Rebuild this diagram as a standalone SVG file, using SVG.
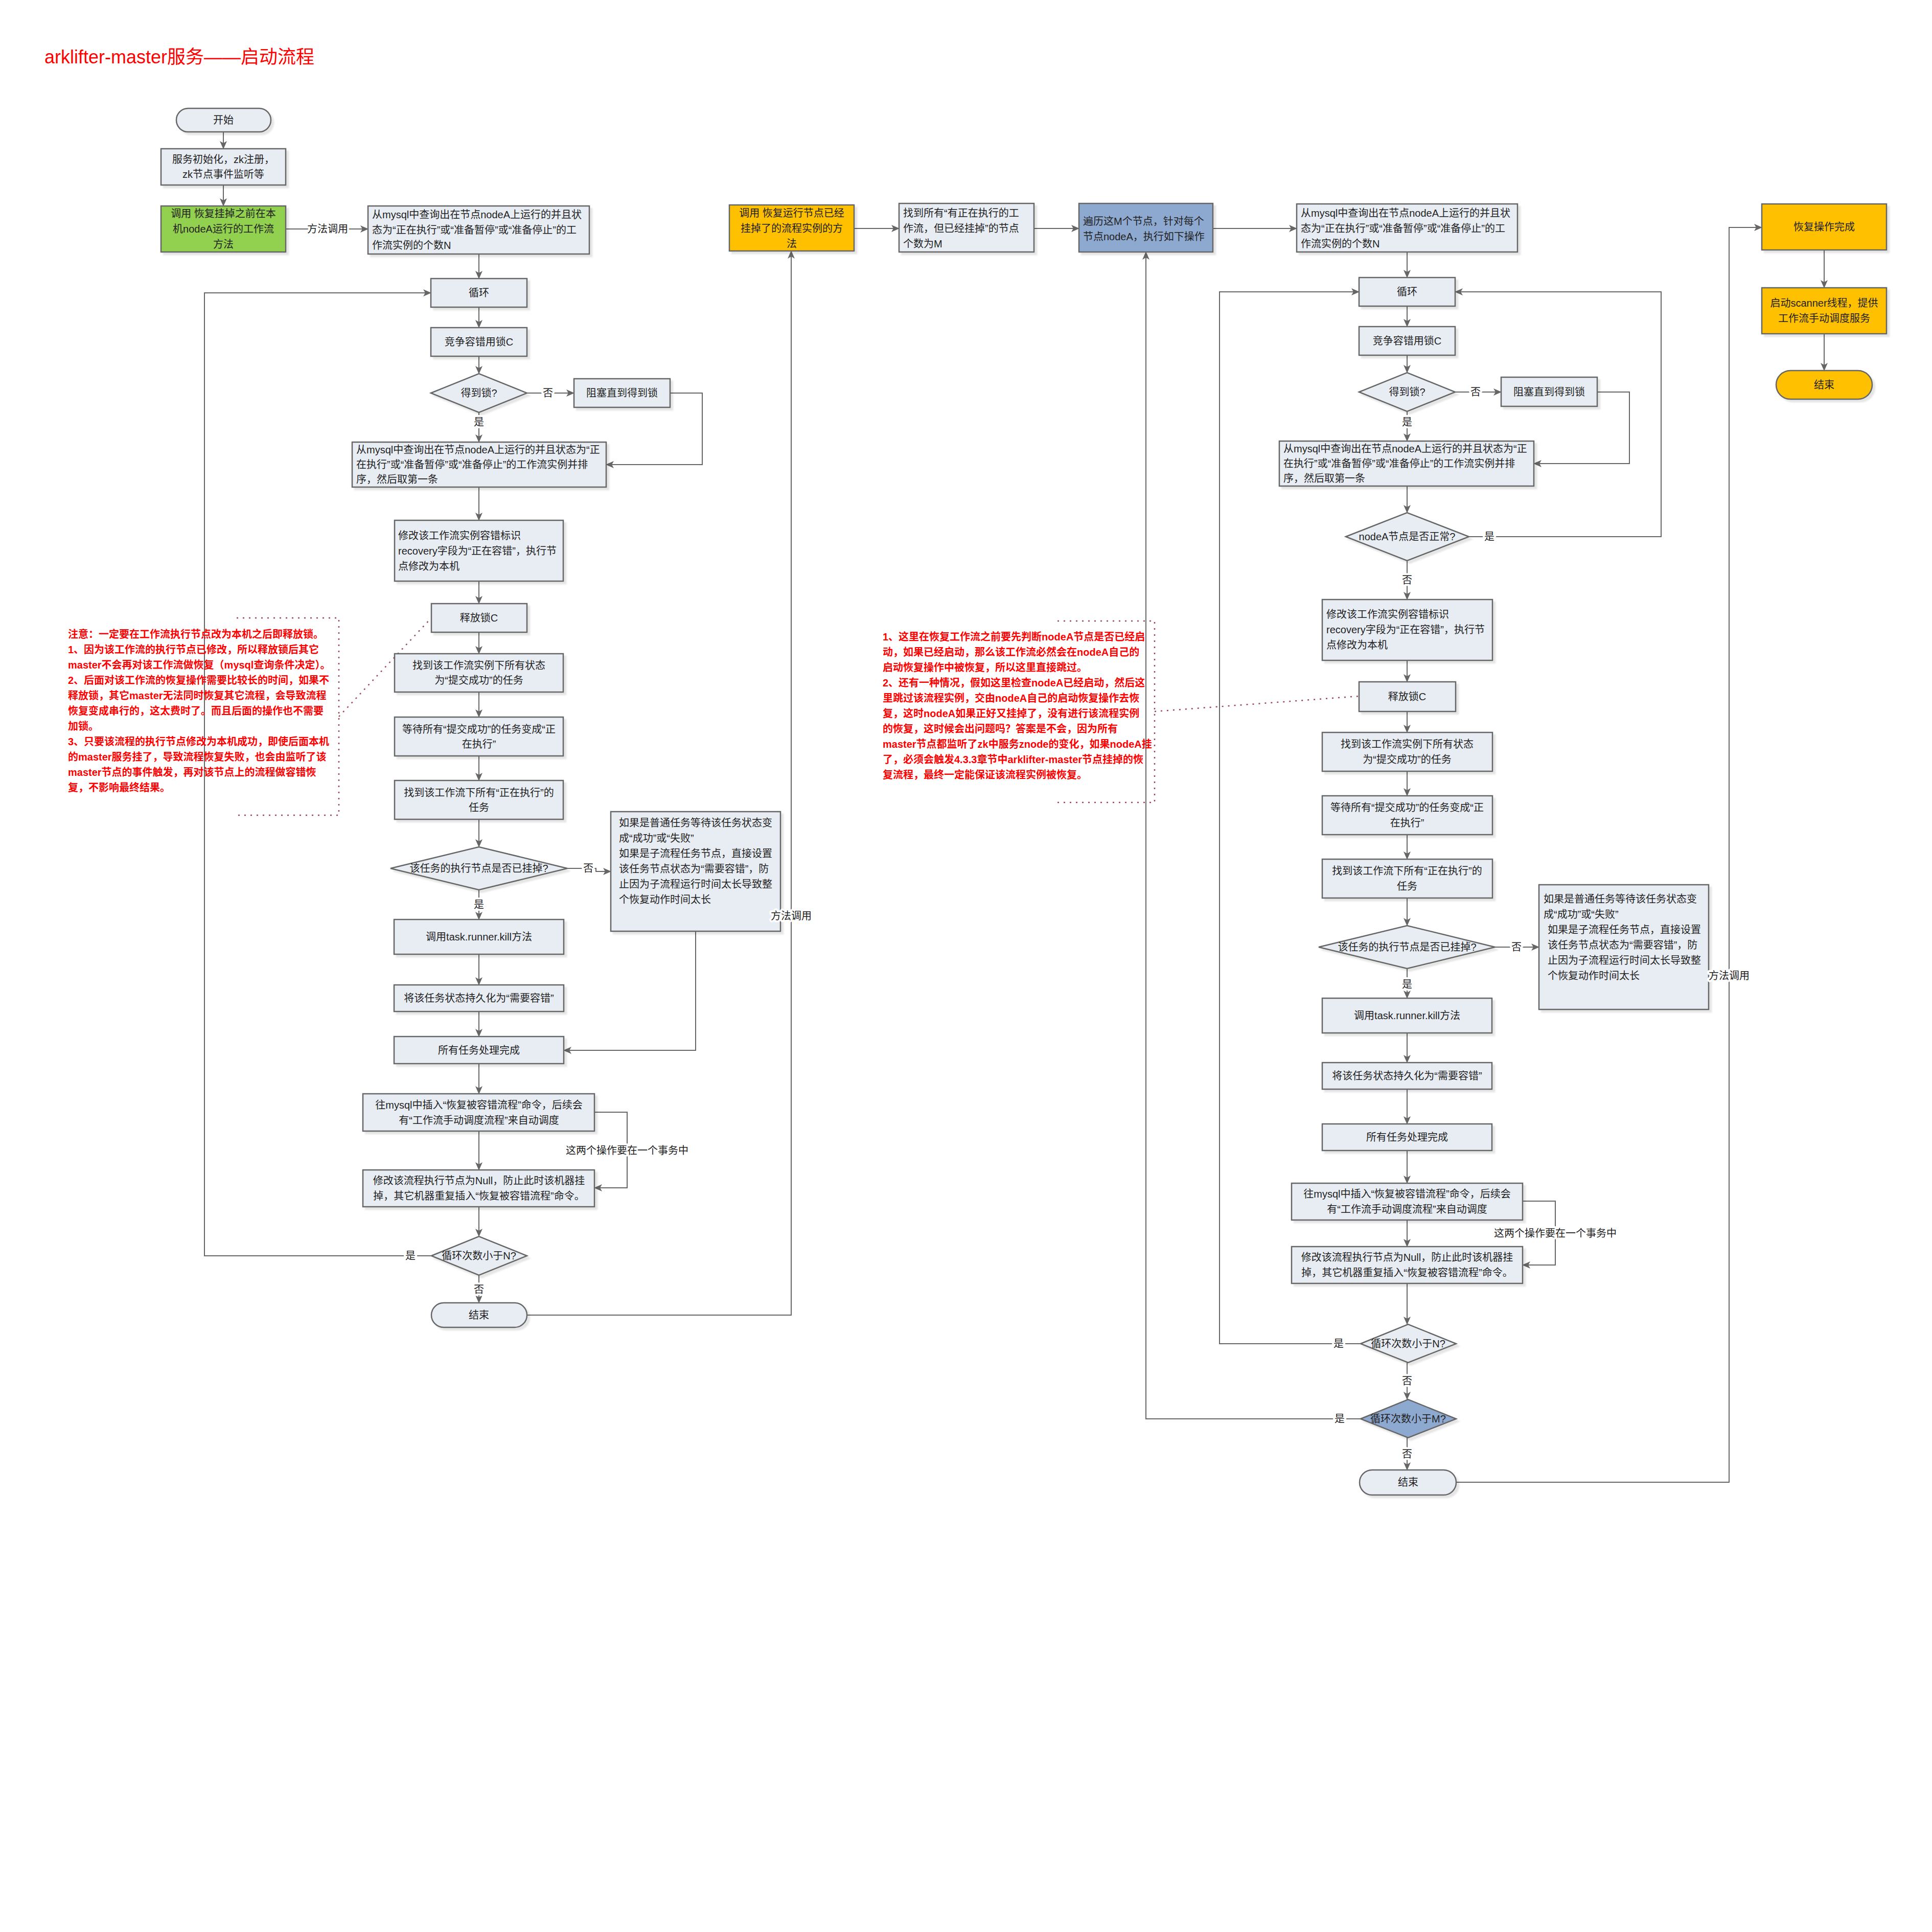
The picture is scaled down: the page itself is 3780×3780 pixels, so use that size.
<svg xmlns="http://www.w3.org/2000/svg" width="3780" height="3780" viewBox="0 0 3780 3780">
<style>
text{font-family:"Liberation Sans","Noto Sans CJK SC",sans-serif;font-size:20px;fill:#222;dominant-baseline:central}
.c{text-anchor:middle}
.n{fill:#E8EDF4;stroke:#666;stroke-width:2.5;filter:url(#ds)}
.g{fill:#92D050}
.y{fill:#FFC000}
.b{fill:#8EA9D0}
.e{fill:none;stroke:#666;stroke-width:2}
.a{marker-end:url(#ah)}
.lbl{text-anchor:middle;paint-order:stroke;stroke:#fff;stroke-width:8px;stroke-linejoin:round}
.red{fill:#f00;font-weight:bold}
.dot{fill:none;stroke:#9c4858;stroke-width:2.5;stroke-dasharray:3 9}
.title{font-size:36px;fill:#f00}
</style>
<defs>
<filter id="ds" x="-10%" y="-10%" width="130%" height="130%"><feDropShadow dx="5" dy="5" stdDeviation="1.5" flood-color="#000" flood-opacity="0.1"/></filter>
<marker id="ah" viewBox="0 0 16 14" refX="15" refY="7" markerWidth="16" markerHeight="14" orient="auto" markerUnits="userSpaceOnUse"><path d="M0,0 L16,7 L0,14 L4,7 z" fill="#666"/></marker>
</defs>
<rect width="3780" height="3780" fill="#fff"/>
<text x="87" y="111" class="title">arklifter-master服务——启动流程</text>

<g id="connectors">
<path class="e a" d="M437,258 V291"/>
<path class="e a" d="M437,362 V403"/>
<path class="e a" d="M559,448 H720"/>
<path class="e a" d="M937,497 V545"/>
<path class="e a" d="M937,601 V641"/>
<path class="e a" d="M937,697 V731"/>
<path class="e a" d="M1031,769 H1123"/>
<path class="e a" d="M1311,769 H1374 V909 H1186"/>
<path class="e a" d="M937,807 V865"/>
<path class="e a" d="M937,953 V1018"/>
<path class="e a" d="M937,1137 V1181"/>
<path class="e a" d="M937,1237 V1279"/>
<path class="e a" d="M937,1354 V1403"/>
<path class="e a" d="M937,1479 V1527"/>
<path class="e a" d="M937,1603 V1657"/>
<path class="e a" d="M1110,1699 H1166 V1705 H1195"/>
<path class="e a" d="M937,1741 V1799"/>
<path class="e a" d="M937,1867 V1927"/>
<path class="e a" d="M937,1979 V2028"/>
<path class="e a" d="M1361,1822 V2055 H1103"/>
<path class="e a" d="M937,2081 V2140"/>
<path class="e a" d="M937,2213 V2289"/>
<path class="e a" d="M1163,2176 H1227 V2324 H1163"/>
<path class="e a" d="M937,2361 V2419"/>
<path class="e a" d="M844,2457 H400 V573 H843"/>
<path class="e a" d="M937,2495 V2549"/>
<path class="e a" d="M1031,2573 H1548 V491"/>
<path class="e a" d="M1671,447 H1759"/>
<path class="e a" d="M2023,447 H2111"/>
<path class="e a" d="M2373,447 H2537"/>
<path class="e a" d="M2753,493 V543"/>
<path class="e a" d="M2753,599 V639"/>
<path class="e a" d="M2753,695 V729"/>
<path class="e a" d="M2847,767 H2937"/>
<path class="e a" d="M3125,767 H3188 V907 H3001"/>
<path class="e a" d="M2753,805 V863"/>
<path class="e a" d="M2753,951 V1003"/>
<path class="e a" d="M2874,1050 H3250 V571 H2847"/>
<path class="e a" d="M2753,1097 V1173"/>
<path class="e a" d="M2753,1292 V1334"/>
<path class="e a" d="M2753,1392 V1433"/>
<path class="e a" d="M2753,1509 V1557"/>
<path class="e a" d="M2753,1633 V1681"/>
<path class="e a" d="M2753,1757 V1811"/>
<path class="e a" d="M2925,1853 H3011"/>
<path class="e a" d="M2753,1895 V1953"/>
<path class="e a" d="M2753,2021 V2079"/>
<path class="e a" d="M2753,2131 V2199"/>
<path class="e a" d="M2753,2251 V2315"/>
<path class="e a" d="M2753,2387 V2439"/>
<path class="e a" d="M2979,2350 H3043 V2475 H2979"/>
<path class="e a" d="M2753,2511 V2591"/>
<path class="e a" d="M2662,2629 H2386 V571 H2659"/>
<path class="e a" d="M2753,2666 V2738"/>
<path class="e a" d="M2662,2776 H2242 V493"/>
<path class="e a" d="M2753,2813 V2876"/>
<path class="e a" d="M2849,2900 H3383 V445 H3447"/>
<path class="e a" d="M3569,489 V563"/>
<path class="e a" d="M3569,653 V725"/>
<path class="dot" d="M463,1209 H663 V1595 H463"/>
<path class="dot" d="M663,1402 L843,1210"/>
<path class="dot" d="M2069,1215 H2259 V1570 H2060"/>
<path class="dot" d="M2259,1392 L2659,1362"/>
</g>

<g id="start"><rect class="n" x="345" y="212" width="185" height="46" rx="23"/><text x="437" y="235" class="c">开始</text></g>
<g id="init"><rect class="n" x="315" y="291" width="244" height="71"/><text class="c"><tspan x="437" y="312">服务初始化，zk注册，</tspan><tspan x="437" y="341">zk节点事件监听等</tspan></text></g>
<g id="callRecover"><rect class="n g" x="315" y="403" width="244" height="90"/><text class="c"><tspan x="437" y="418">调用 恢复挂掉之前在本</tspan><tspan x="437" y="448">机nodeA运行的工作流</tspan><tspan x="437" y="478">方法</tspan></text></g>
<g id="queryN1"><rect class="n" x="720" y="403" width="433" height="94"/><text><tspan x="728" y="420">从mysql中查询出在节点nodeA上运行的并且状</tspan><tspan x="728" y="450">态为“正在执行”或“准备暂停”或“准备停止”的工</tspan><tspan x="728" y="480">作流实例的个数N</tspan></text></g>
<g id="loop1"><rect class="n" x="843" y="545" width="188" height="56"/><text x="937" y="573" class="c">循环</text></g>
<g id="lock1"><rect class="n" x="843" y="641" width="188" height="56"/><text x="937" y="669" class="c">竞争容错用锁C</text></g>
<g id="gotLock1"><polygon class="n" points="843,769 937,731 1031,769 937,807"/><text x="937" y="769" class="c">得到锁?</text></g>
<g id="block1"><rect class="n" x="1123" y="741" width="188" height="56"/><text x="1217" y="769" class="c">阻塞直到得到锁</text></g>
<g id="querySort1"><rect class="n" x="689" y="865" width="497" height="88"/><text><tspan x="697" y="880">从mysql中查询出在节点nodeA上运行的并且状态为“正</tspan><tspan x="697" y="909">在执行”或“准备暂停”或“准备停止”的工作流实例并排</tspan><tspan x="697" y="938">序，然后取第一条</tspan></text></g>
<g id="modify1"><rect class="n" x="772" y="1018" width="330" height="119"/><text><tspan x="779" y="1048">修改该工作流实例容错标识</tspan><tspan x="779" y="1078">recovery字段为“正在容错”，执行节</tspan><tspan x="779" y="1108">点修改为本机</tspan></text></g>
<g id="release1"><rect class="n" x="844" y="1181" width="187" height="56"/><text x="937" y="1209" class="c">释放锁C</text></g>
<g id="findSubmit1"><rect class="n" x="772" y="1279" width="330" height="75"/><text class="c"><tspan x="937" y="1302">找到该工作流实例下所有状态</tspan><tspan x="937" y="1331">为“提交成功”的任务</tspan></text></g>
<g id="wait1"><rect class="n" x="772" y="1403" width="330" height="76"/><text class="c"><tspan x="937" y="1427">等待所有“提交成功”的任务变成“正</tspan><tspan x="937" y="1456">在执行”</tspan></text></g>
<g id="findRun1"><rect class="n" x="772" y="1527" width="330" height="76"/><text class="c"><tspan x="937" y="1551">找到该工作流下所有“正在执行”的</tspan><tspan x="937" y="1580">任务</tspan></text></g>
<g id="dead1"><polygon class="n" points="764,1699 937,1657 1110,1699 937,1741"/><text x="937" y="1699" class="c">该任务的执行节点是否已挂掉?</text></g>
<g id="wait1b"><rect class="n" x="1195" y="1588" width="332" height="234"/><text><tspan x="1211" y="1610">如果是普通任务等待该任务状态变</tspan><tspan x="1211" y="1640">成“成功”或“失败”</tspan><tspan x="1211" y="1670">如果是子流程任务节点，直接设置</tspan><tspan x="1211" y="1700">该任务节点状态为“需要容错”，防</tspan><tspan x="1211" y="1730">止因为子流程运行时间太长导致整</tspan><tspan x="1211" y="1760">个恢复动作时间太长</tspan></text></g>
<g id="kill1"><rect class="n" x="771" y="1799" width="332" height="68"/><text x="937" y="1833" class="c">调用task.runner.kill方法</text></g>
<g id="persist1"><rect class="n" x="771" y="1927" width="332" height="52"/><text x="937" y="1953" class="c">将该任务状态持久化为“需要容错”</text></g>
<g id="allDone1"><rect class="n" x="771" y="2028" width="332" height="53"/><text x="937" y="2055" class="c">所有任务处理完成</text></g>
<g id="insert1"><rect class="n" x="710" y="2140" width="453" height="73"/><text class="c"><tspan x="937" y="2162">往mysql中插入“恢复被容错流程”命令，后续会</tspan><tspan x="937" y="2192">有“工作流手动调度流程”来自动调度</tspan></text></g>
<g id="setNull1"><rect class="n" x="710" y="2289" width="453" height="72"/><text class="c"><tspan x="937" y="2310">修改该流程执行节点为Null，防止此时该机器挂</tspan><tspan x="937" y="2340">掉，其它机器重复插入“恢复被容错流程”命令。</tspan></text></g>
<g id="loopN1"><polygon class="n" points="844,2457 937,2419 1031,2457 937,2495"/><text x="937" y="2457" class="c">循环次数小于N?</text></g>
<g id="end1"><rect class="n" x="844" y="2549" width="187" height="48" rx="24"/><text x="937" y="2573" class="c">结束</text></g>

<g id="note1"><text class="red"><tspan x="133" y="1241">注意：一定要在工作流执行节点改为本机之后即释放锁。</tspan><tspan x="133" y="1271">1、因为该工作流的执行节点已修改，所以释放锁后其它</tspan><tspan x="133" y="1301">master不会再对该工作流做恢复（mysql查询条件决定）。</tspan><tspan x="133" y="1331">2、后面对该工作流的恢复操作需要比较长的时间，如果不</tspan><tspan x="133" y="1361">释放锁，其它master无法同时恢复其它流程，会导致流程</tspan><tspan x="133" y="1391">恢复变成串行的，这太费时了。而且后面的操作也不需要</tspan><tspan x="133" y="1421">加锁。</tspan><tspan x="133" y="1451">3、只要该流程的执行节点修改为本机成功，即使后面本机</tspan><tspan x="133" y="1481">的master服务挂了，导致流程恢复失败，也会由监听了该</tspan><tspan x="133" y="1511">master节点的事件触发，再对该节点上的流程做容错恢</tspan><tspan x="133" y="1541">复，不影响最终结果。</tspan></text></g>

<g id="callDead"><rect class="n y" x="1427" y="401" width="244" height="90"/><text class="c"><tspan x="1549" y="417">调用 恢复运行节点已经</tspan><tspan x="1549" y="447">挂掉了的流程实例的方</tspan><tspan x="1549" y="477">法</tspan></text></g>
<g id="findM"><rect class="n" x="1759" y="398" width="264" height="95"/><text><tspan x="1767" y="417">找到所有“有正在执行的工</tspan><tspan x="1767" y="447">作流，但已经挂掉”的节点</tspan><tspan x="1767" y="477">个数为M</tspan></text></g>
<g id="iterM"><rect class="n b" x="2111" y="398" width="262" height="95"/><text><tspan x="2119" y="433">遍历这M个节点，针对每个</tspan><tspan x="2119" y="463">节点nodeA，执行如下操作</tspan></text></g>

<g id="note2"><text class="red"><tspan x="1727" y="1246">1、这里在恢复工作流之前要先判断nodeA节点是否已经启</tspan><tspan x="1727" y="1276">动，如果已经启动，那么该工作流必然会在nodeA自己的</tspan><tspan x="1727" y="1306">启动恢复操作中被恢复，所以这里直接跳过。</tspan><tspan x="1727" y="1336">2、还有一种情况，假如这里检查nodeA已经启动，然后这</tspan><tspan x="1727" y="1366">里跳过该流程实例，交由nodeA自己的启动恢复操作去恢</tspan><tspan x="1727" y="1396">复，这时nodeA如果正好又挂掉了，没有进行该流程实例</tspan><tspan x="1727" y="1426">的恢复，这时候会出问题吗？答案是不会，因为所有</tspan><tspan x="1727" y="1456">master节点都监听了zk中服务znode的变化，如果nodeA挂</tspan><tspan x="1727" y="1486">了，必须会触发4.3.3章节中arklifter-master节点挂掉的恢</tspan><tspan x="1727" y="1516">复流程，最终一定能保证该流程实例被恢复。</tspan></text></g>

<g id="queryN2"><rect class="n" x="2537" y="399" width="432" height="94"/><text><tspan x="2545" y="417">从mysql中查询出在节点nodeA上运行的并且状</tspan><tspan x="2545" y="447">态为“正在执行”或“准备暂停”或“准备停止”的工</tspan><tspan x="2545" y="477">作流实例的个数N</tspan></text></g>
<g id="loop2"><rect class="n" x="2659" y="543" width="188" height="56"/><text x="2753" y="571" class="c">循环</text></g>
<g id="lock2"><rect class="n" x="2659" y="639" width="188" height="56"/><text x="2753" y="667" class="c">竞争容错用锁C</text></g>
<g id="gotLock2"><polygon class="n" points="2659,767 2753,729 2847,767 2753,805"/><text x="2753" y="767" class="c">得到锁?</text></g>
<g id="block2"><rect class="n" x="2937" y="738" width="188" height="57"/><text x="3031" y="767" class="c">阻塞直到得到锁</text></g>
<g id="querySort2"><rect class="n" x="2503" y="863" width="498" height="88"/><text><tspan x="2511" y="878">从mysql中查询出在节点nodeA上运行的并且状态为“正</tspan><tspan x="2511" y="907">在执行”或“准备暂停”或“准备停止”的工作流实例并排</tspan><tspan x="2511" y="936">序，然后取第一条</tspan></text></g>
<g id="nodeOk"><polygon class="n" points="2633,1050 2753,1003 2874,1050 2753,1097"/><text x="2753" y="1050" class="c">nodeA节点是否正常?</text></g>
<g id="modify2"><rect class="n" x="2587" y="1173" width="333" height="119"/><text><tspan x="2595" y="1202">修改该工作流实例容错标识</tspan><tspan x="2595" y="1232">recovery字段为“正在容错”，执行节</tspan><tspan x="2595" y="1262">点修改为本机</tspan></text></g>
<g id="release2"><rect class="n" x="2659" y="1334" width="189" height="58"/><text x="2753" y="1363" class="c">释放锁C</text></g>
<g id="findSubmit2"><rect class="n" x="2587" y="1433" width="333" height="76"/><text class="c"><tspan x="2753" y="1456">找到该工作流实例下所有状态</tspan><tspan x="2753" y="1486">为“提交成功”的任务</tspan></text></g>
<g id="wait2"><rect class="n" x="2587" y="1557" width="333" height="76"/><text class="c"><tspan x="2753" y="1580">等待所有“提交成功”的任务变成“正</tspan><tspan x="2753" y="1610">在执行”</tspan></text></g>
<g id="findRun2"><rect class="n" x="2587" y="1681" width="333" height="76"/><text class="c"><tspan x="2753" y="1704">找到该工作流下所有“正在执行”的</tspan><tspan x="2753" y="1734">任务</tspan></text></g>
<g id="dead2"><polygon class="n" points="2580,1853 2753,1811 2925,1853 2753,1895"/><text x="2753" y="1853" class="c">该任务的执行节点是否已挂掉?</text></g>
<g id="wait2b"><rect class="n" x="3011" y="1731" width="332" height="244"/><text><tspan x="3020" y="1759">如果是普通任务等待该任务状态变</tspan><tspan x="3020" y="1789">成“成功”或“失败”</tspan><tspan x="3028" y="1819">如果是子流程任务节点，直接设置</tspan><tspan x="3028" y="1849">该任务节点状态为“需要容错”，防</tspan><tspan x="3028" y="1879">止因为子流程运行时间太长导致整</tspan><tspan x="3028" y="1909">个恢复动作时间太长</tspan></text></g>
<g id="kill2"><rect class="n" x="2587" y="1953" width="332" height="68"/><text x="2753" y="1987" class="c">调用task.runner.kill方法</text></g>
<g id="persist2"><rect class="n" x="2587" y="2079" width="332" height="52"/><text x="2753" y="2105" class="c">将该任务状态持久化为“需要容错”</text></g>
<g id="allDone2"><rect class="n" x="2587" y="2199" width="332" height="52"/><text x="2753" y="2225" class="c">所有任务处理完成</text></g>
<g id="insert2"><rect class="n" x="2527" y="2315" width="452" height="72"/><text class="c"><tspan x="2753" y="2336">往mysql中插入“恢复被容错流程”命令，后续会</tspan><tspan x="2753" y="2366">有“工作流手动调度流程”来自动调度</tspan></text></g>
<g id="setNull2"><rect class="n" x="2527" y="2439" width="452" height="72"/><text class="c"><tspan x="2753" y="2460">修改该流程执行节点为Null，防止此时该机器挂</tspan><tspan x="2753" y="2490">掉，其它机器重复插入“恢复被容错流程”命令。</tspan></text></g>
<g id="loopN2"><polygon class="n" points="2662,2629 2755,2591 2849,2629 2755,2666"/><text x="2755" y="2629" class="c">循环次数小于N?</text></g>
<g id="loopM"><polygon class="n b" points="2662,2776 2755,2738 2849,2776 2755,2813"/><text x="2755" y="2776" class="c">循环次数小于M?</text></g>
<g id="end2"><rect class="n" x="2660" y="2876" width="189" height="49" rx="24.5"/><text x="2755" y="2900" class="c">结束</text></g>

<g id="recoverDone"><rect class="n y" x="3447" y="399" width="244" height="90"/><text x="3569" y="444" class="c">恢复操作完成</text></g>
<g id="scanner"><rect class="n y" x="3447" y="563" width="244" height="90"/><text class="c"><tspan x="3569" y="593">启动scanner线程，提供</tspan><tspan x="3569" y="623">工作流手动调度服务</tspan></text></g>
<g id="end3"><rect class="n y" x="3475" y="725" width="188" height="56" rx="28"/><text x="3569" y="753" class="c">结束</text></g>

<g id="connector-labels">
<text x="641" y="448" class="lbl">方法调用</text>
<text x="1072" y="769" class="lbl">否</text>
<text x="937" y="826" class="lbl">是</text>
<text x="1151" y="1699" class="lbl">否</text>
<text x="937" y="1770" class="lbl">是</text>
<text x="1548" y="1792" class="lbl">方法调用</text>
<text x="1227" y="2251" class="lbl">这两个操作要在一个事务中</text>
<text x="803" y="2457" class="lbl">是</text>
<text x="937" y="2523" class="lbl">否</text>
<text x="2887" y="767" class="lbl">否</text>
<text x="2753" y="826" class="lbl">是</text>
<text x="2914" y="1050" class="lbl">是</text>
<text x="2753" y="1135" class="lbl">否</text>
<text x="2967" y="1853" class="lbl">否</text>
<text x="2753" y="1926" class="lbl">是</text>
<text x="3383" y="1909" class="lbl">方法调用</text>
<text x="3043" y="2413" class="lbl">这两个操作要在一个事务中</text>
<text x="2619" y="2629" class="lbl">是</text>
<text x="2753" y="2702" class="lbl">否</text>
<text x="2621" y="2776" class="lbl">是</text>
<text x="2753" y="2845" class="lbl">否</text>
</g>
</svg>
